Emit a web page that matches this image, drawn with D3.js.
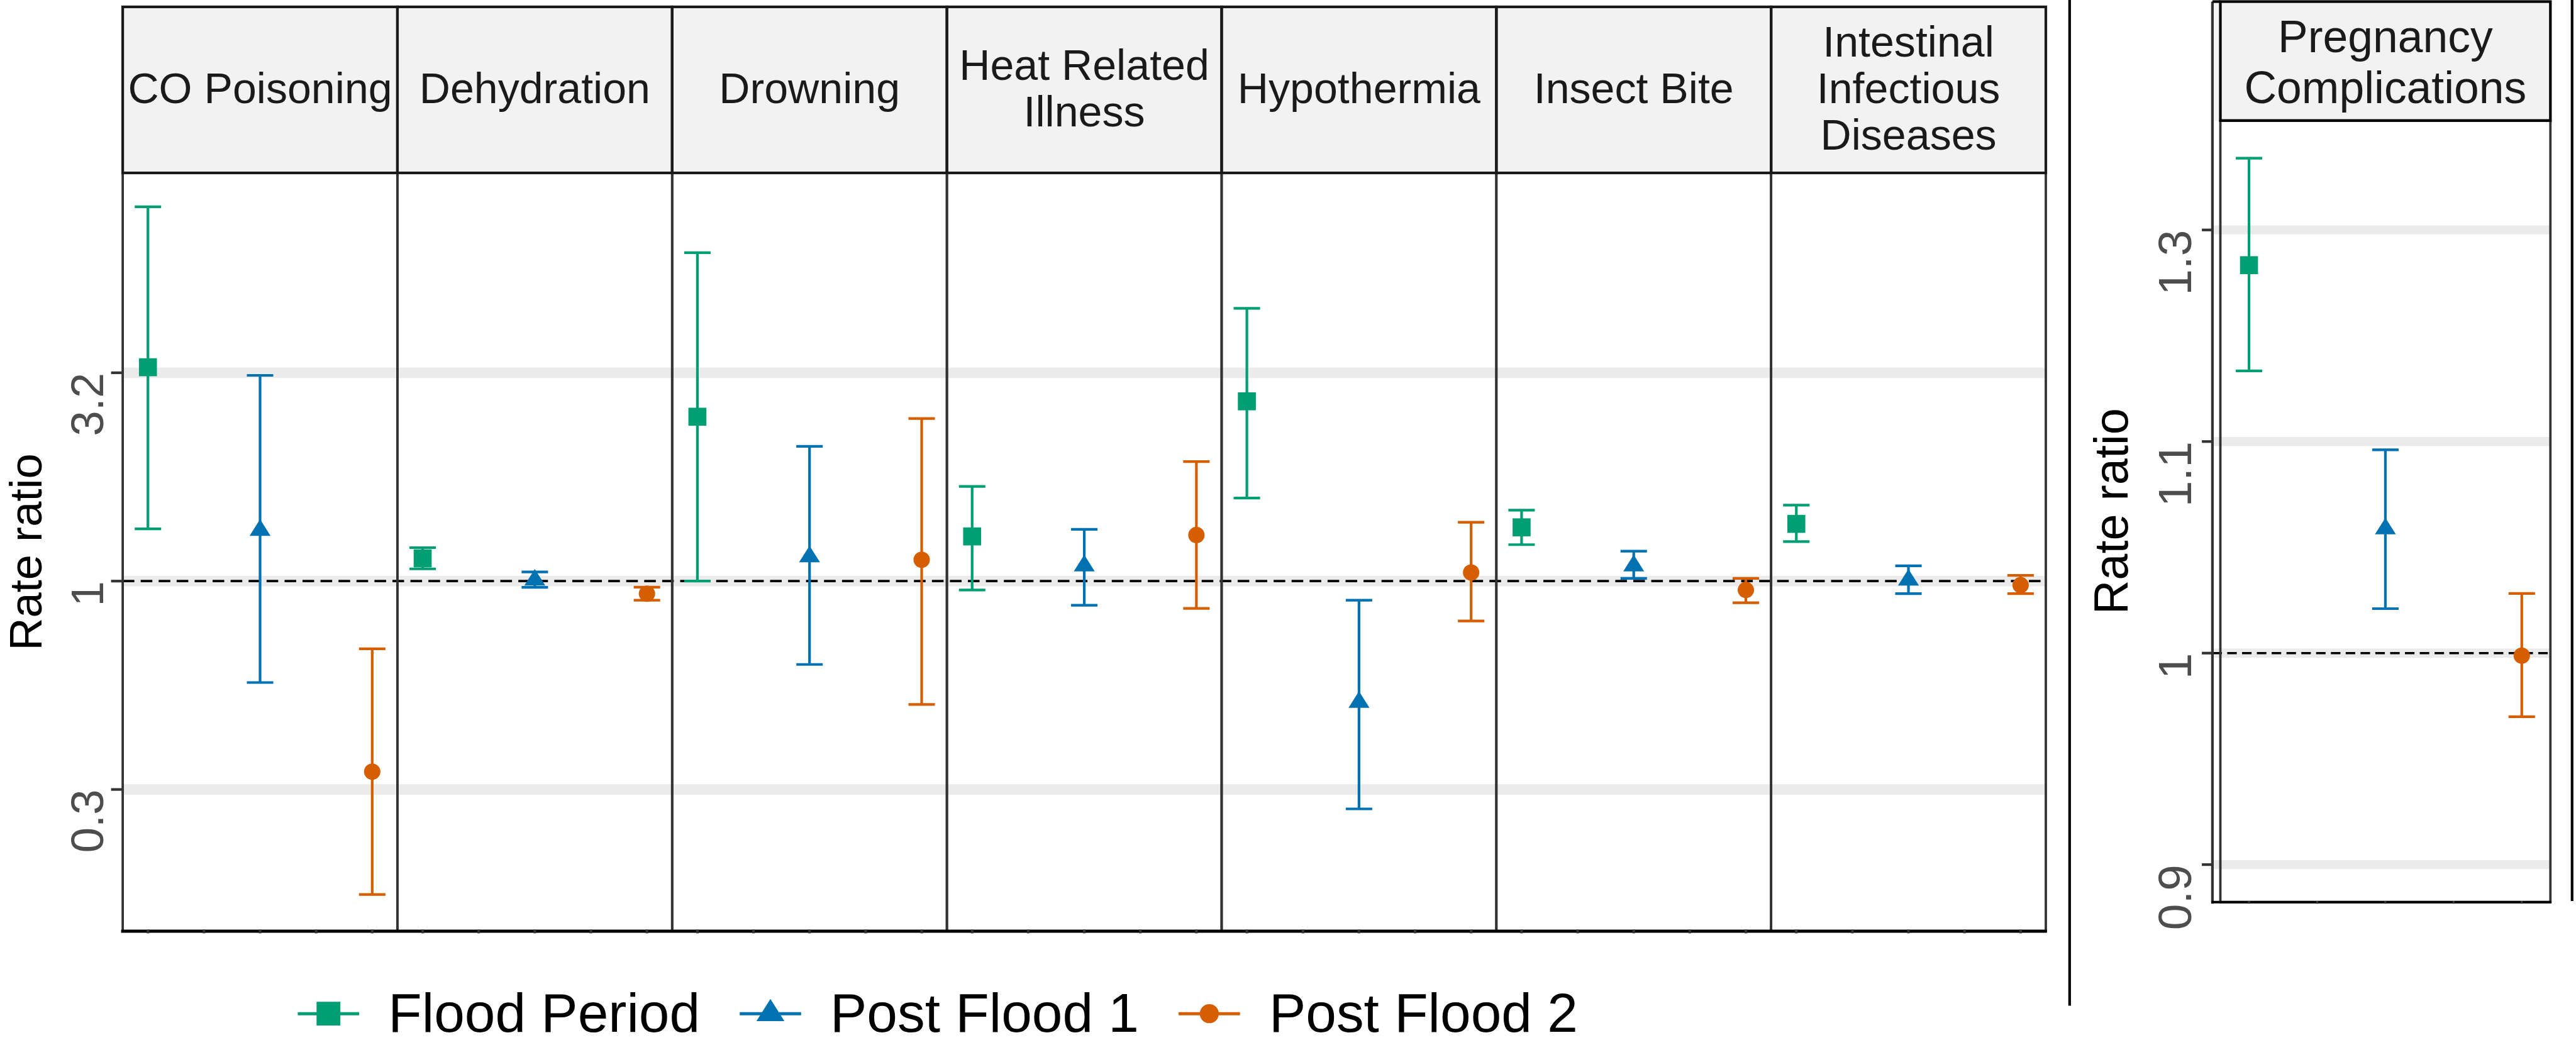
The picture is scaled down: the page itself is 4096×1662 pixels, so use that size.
<!DOCTYPE html>
<html><head><meta charset="utf-8">
<script src="https://cdn.jsdelivr.net/npm/d3@7"></script>
<style>body{margin:0;background:#fff}svg{display:block}</style>
</head><body>
<script>
// ---------- data ----------
const categories = ["CO Poisoning","Dehydration","Drowning","Heat Related Illness","Hypothermia","Insect Bite","Intestinal Infectious Diseases"];
const stripLabels = [["CO Poisoning"],["Dehydration"],["Drowning"],["Heat Related","Illness"],["Hypothermia"],["Insect Bite"],["Intestinal","Infectious","Diseases"]];
const seriesNames = ["Flood Period","Post Flood 1","Post Flood 2"];
const seriesColors = ["#009E73","#0072B2","#D55E00"];
const seriesShapes = ["square","triangle","circle"];
const seriesX = [1, 2, 3];

const floodEst  = [3.26, 1.134, 2.48, 1.280, 2.70, 1.346, 1.372];
const floodLow  = [1.335, 1.070, 1.00, 0.952, 1.582, 1.223, 1.244];
const floodHigh = [7.91, 1.203, 6.14, 1.687, 4.514, 1.480, 1.522];
const post1Est  = [1.324, 1.006, 1.144, 1.088, 0.512, 1.088, 1.006];
const post1Low  = [0.571, 0.966, 0.631, 0.875, 0.284, 1.015, 0.933];
const post1High = [3.117, 1.052, 2.105, 1.331, 0.900, 1.180, 1.088];
const post2Est  = [0.349, 0.933, 1.125, 1.290, 1.049, 0.952, 0.978];
const post2Low  = [0.177, 0.900, 0.506, 0.860, 0.802, 0.887, 0.933];
const post2High = [0.688, 0.967, 2.455, 1.936, 1.384, 1.015, 1.032];

const pregnancyLabel = ["Pregnancy","Complications"];
const pregnancyEst  = [1.235, 1.070, 0.9986];
const pregnancyLow  = [1.166, 1.0245, 0.966];
const pregnancyHigh = [1.309, 1.117, 1.033];

const mainYTicks = [0.3162, 1, 3.162];
const mainYTickLabels = ["0.3","1","3.2"];
const pregYTicks = [0.8913, 1, 1.122, 1.2589];
const pregYTickLabels = ["0.9","1","1.1","1.3"];
const xTickValues = [1, 1.5, 2, 2.5, 3];
const yTitle = "Rate ratio";

// ---------- build rows ----------
const estArr = [floodEst, post1Est, post2Est];
const lowArr = [floodLow, post1Low, post2Low];
const highArr = [floodHigh, post1High, post2High];
const mainRows = [];
categories.forEach((c, i) => seriesNames.forEach((s, j) => mainRows.push({cat:c, s:j, x:seriesX[j], est:estArr[j][i], lo:lowArr[j][i], hi:highArr[j][i]})));
const pregRows = seriesNames.map((s, j) => ({s:j, x:seriesX[j], est:pregnancyEst[j], lo:pregnancyLow[j], hi:pregnancyHigh[j]}));

// ---------- drawing ----------
const W = 4096, H = 1662, S = 0.841;
const FONT = "'Liberation Sans', Arial, Helvetica, sans-serif";
const svg = d3.select("body").append("svg").attr("width", W).attr("height", H)
  .style("font-family", FONT);
const root = svg.append("g").attr("transform", `scale(${S})`);

function markerPath(shape, size) {
  if (shape === "square") { const h = size/2; return `M${-h},${-h}H${h}V${h}H${-h}Z`; }
  if (shape === "circle") { const r = size/2; return `M${r},0A${r},${r} 0 1,1 ${-r},0A${r},${r} 0 1,1 ${r},0Z`; }
  const w = size*1.2, h = size*0.95; // triangle, centroid at origin
  return `M0,${-2*h/3}L${w/2},${h/3}L${-w/2},${h/3}Z`;
}
const markerSize = {square:34, triangle:33, circle:31};

function drawErrorbars(g, rows, x, y) {
  const cap = 50;
  const eb = g.append("g");
  rows.forEach(d => {
    const cx = x(d.x), col = seriesColors[d.s];
    eb.append("line").attr("x1", cx).attr("x2", cx).attr("y1", y(d.lo)).attr("y2", y(d.hi))
      .attr("stroke", col).attr("stroke-width", 5);
    [d.lo, d.hi].forEach(v => eb.append("line").attr("x1", cx-cap/2).attr("x2", cx+cap/2)
      .attr("y1", y(v)).attr("y2", y(v)).attr("stroke", col).attr("stroke-width", 5));
  });
  rows.forEach(d => {
    const sh = seriesShapes[d.s];
    eb.append("path").attr("d", markerPath(sh, markerSize[sh]))
      .attr("transform", `translate(${x(d.x)},${y(d.est)})`).attr("fill", seriesColors[d.s]);
  });
}

// ===== main faceted plot =====
const M = {left:232, right:3868, stripTop:13, top:327, bottom:1761};
const band = d3.scaleBand().domain(categories).range([M.left, M.right]).paddingInner(0).paddingOuter(0);
const yMain = d3.scaleLog().domain([0.1445, 9.54]).range([M.bottom, M.top]);
const mainG = root.append("g");

categories.forEach(c => {
  mainG.append("rect").attr("x", band(c)).attr("y", M.stripTop).attr("width", band.bandwidth())
    .attr("height", M.top - M.stripTop).attr("fill", "#F2F2F2");
});
mainYTicks.forEach(t => mainG.append("line").attr("x1", M.left).attr("x2", M.right)
  .attr("y1", yMain(t)).attr("y2", yMain(t)).attr("stroke", "#EBEBEB").attr("stroke-width", 20));
mainG.append("line").attr("x1", M.left).attr("x2", M.right).attr("y1", yMain(1)).attr("y2", yMain(1))
  .attr("stroke", "#000").attr("stroke-width", 4.5).attr("stroke-dasharray", "22,12");

const xScales = {};
categories.forEach((c, i) => {
  const x = d3.scaleLinear().domain([0.775, 3.225]).range([band(c), band(c) + band.bandwidth()]);
  xScales[c] = x;
  drawErrorbars(mainG, mainRows.filter(r => r.cat === c), x, yMain);
  const lines = stripLabels[i];
  const cy = (M.stripTop + M.top)/2 + 25;
  lines.forEach((ln, k) => mainG.append("text").attr("x", band(c) + band.bandwidth()/2)
    .attr("y", cy + (k - (lines.length-1)/2) * 88).attr("text-anchor", "middle")
    .attr("font-size", 81).attr("fill", "#1A1A1A").text(ln));
});
categories.forEach(c => {
  mainG.append("rect").attr("x", band(c)).attr("y", M.top).attr("width", band.bandwidth())
    .attr("height", M.bottom - M.top).attr("fill", "none").attr("stroke", "#333").attr("stroke-width", 4.5);
  mainG.append("rect").attr("x", band(c)).attr("y", M.stripTop).attr("width", band.bandwidth())
    .attr("height", M.top - M.stripTop).attr("fill", "none").attr("stroke", "#1A1A1A").attr("stroke-width", 5);
});
mainG.append("line").attr("x1", M.left - 3).attr("x2", M.right + 2).attr("y1", M.bottom).attr("y2", M.bottom)
  .attr("stroke", "#000").attr("stroke-width", 6);
categories.forEach(c => xTickValues.forEach(t => mainG.append("line")
  .attr("x1", xScales[c](t)).attr("x2", xScales[c](t)).attr("y1", M.bottom - 3).attr("y2", M.bottom + 4)
  .attr("stroke", "#333").attr("stroke-width", 5)));
mainYTicks.forEach((t, k) => {
  mainG.append("line").attr("x1", M.left - 22).attr("x2", M.left).attr("y1", yMain(t)).attr("y2", yMain(t))
    .attr("stroke", "#333").attr("stroke-width", 5);
  mainG.append("text").attr("transform", `translate(195,${yMain(t)}) rotate(-90)`)
    .attr("text-anchor", "end").attr("font-size", 86).attr("fill", "#4D4D4D").text(mainYTickLabels[k]);
});
mainG.append("text").attr("transform", `translate(79,${(M.top + M.bottom)/2}) rotate(-90)`)
  .attr("text-anchor", "middle").attr("font-size", 86).attr("fill", "#000").text(yTitle);

// legend
const legG = root.append("g").attr("transform", "translate(563,1917)");
let lx = 0;
seriesNames.forEach((s, j) => {
  const it = legG.append("g").attr("transform", `translate(${lx},0)`);
  it.append("line").attr("x1", 0).attr("x2", 116).attr("y1", 0).attr("y2", 0)
    .attr("stroke", seriesColors[j]).attr("stroke-width", 6);
  const lsz = {square:45, triangle:44, circle:36}[seriesShapes[j]];
  it.append("path").attr("d", markerPath(seriesShapes[j], lsz)).attr("transform", "translate(58,0)")
    .attr("fill", seriesColors[j]);
  const tx = it.append("text").attr("x", 171).attr("y", 34).attr("font-size", 104).attr("fill", "#000").text(s);
  lx += 171 + tx.node().getComputedTextLength() + 75;
});

// ===== Pregnancy plot =====
const P = {axis:4183, left:4198, right:4822, stripTop:3, top:228, bottom:1706};
const yPreg = d3.scaleLog().domain([0.8733, 1.3361]).range([P.bottom, P.top]);
const xPreg = d3.scaleLinear().domain([0.79, 3.21]).range([P.left, P.right]);
const pg = root.append("g");
pg.append("rect").attr("x", P.left).attr("y", P.stripTop).attr("width", P.right - P.left)
  .attr("height", P.top - P.stripTop).attr("fill", "#F2F2F2");
pg.append("rect").attr("x", P.axis).attr("y", P.stripTop).attr("width", P.left - P.axis)
  .attr("height", P.top - P.stripTop).attr("fill", "#F2F2F2");
pregYTicks.forEach(t => pg.append("line").attr("x1", P.axis).attr("x2", P.right)
  .attr("y1", yPreg(t)).attr("y2", yPreg(t)).attr("stroke", "#EBEBEB").attr("stroke-width", 17));
pg.append("line").attr("x1", P.axis).attr("x2", P.right).attr("y1", yPreg(1)).attr("y2", yPreg(1))
  .attr("stroke", "#000").attr("stroke-width", 4).attr("stroke-dasharray", "18,10");
drawErrorbars(pg, pregRows, xPreg, yPreg);
pregnancyLabel.forEach((ln, k) => pg.append("text").attr("x", (P.left + P.right)/2)
  .attr("y", (P.stripTop + P.top)/2 + 31 + (k - (pregnancyLabel.length-1)/2) * 96)
  .attr("text-anchor", "middle").attr("font-size", 85).attr("fill", "#1A1A1A").text(ln));
pg.append("rect").attr("x", P.left).attr("y", P.top).attr("width", P.right - P.left)
  .attr("height", P.bottom - P.top).attr("fill", "none").attr("stroke", "#333").attr("stroke-width", 4.5);
pg.append("rect").attr("x", P.left).attr("y", P.stripTop).attr("width", P.right - P.left)
  .attr("height", P.top - P.stripTop).attr("fill", "none").attr("stroke", "#000").attr("stroke-width", 5);
pg.append("line").attr("x1", P.axis).attr("x2", P.axis).attr("y1", P.stripTop).attr("y2", P.bottom + 3)
  .attr("stroke", "#333").attr("stroke-width", 5);
pg.append("line").attr("x1", P.axis).attr("x2", P.left).attr("y1", P.stripTop).attr("y2", P.stripTop)
  .attr("stroke", "#000").attr("stroke-width", 5);
pg.append("line").attr("x1", P.axis - 2).attr("x2", P.right + 2).attr("y1", P.bottom).attr("y2", P.bottom)
  .attr("stroke", "#000").attr("stroke-width", 5);
xTickValues.forEach(t => pg.append("line").attr("x1", xPreg(t)).attr("x2", xPreg(t))
  .attr("y1", P.bottom - 2).attr("y2", P.bottom + 3).attr("stroke", "#333").attr("stroke-width", 4));
pregYTicks.forEach((t, k) => {
  pg.append("line").attr("x1", P.axis - 20).attr("x2", P.axis).attr("y1", yPreg(t)).attr("y2", yPreg(t))
    .attr("stroke", "#333").attr("stroke-width", 5);
  pg.append("text").attr("transform", `translate(4143,${yPreg(t)}) rotate(-90)`)
    .attr("text-anchor", "end").attr("font-size", 89).attr("fill", "#4D4D4D").text(pregYTickLabels[k]);
});
pg.append("text").attr("transform", `translate(4022,${(P.top + P.bottom)/2}) rotate(-90)`)
  .attr("text-anchor", "middle").attr("font-size", 90).attr("fill", "#000").text(yTitle);

root.append("line").attr("x1", 3913).attr("x2", 3913).attr("y1", 0).attr("y2", 1902)
  .attr("stroke", "#000").attr("stroke-width", 5);
root.append("line").attr("x1", 4863).attr("x2", 4863).attr("y1", 0).attr("y2", 1704)
  .attr("stroke", "#000").attr("stroke-width", 5);
</script>
</body></html>
